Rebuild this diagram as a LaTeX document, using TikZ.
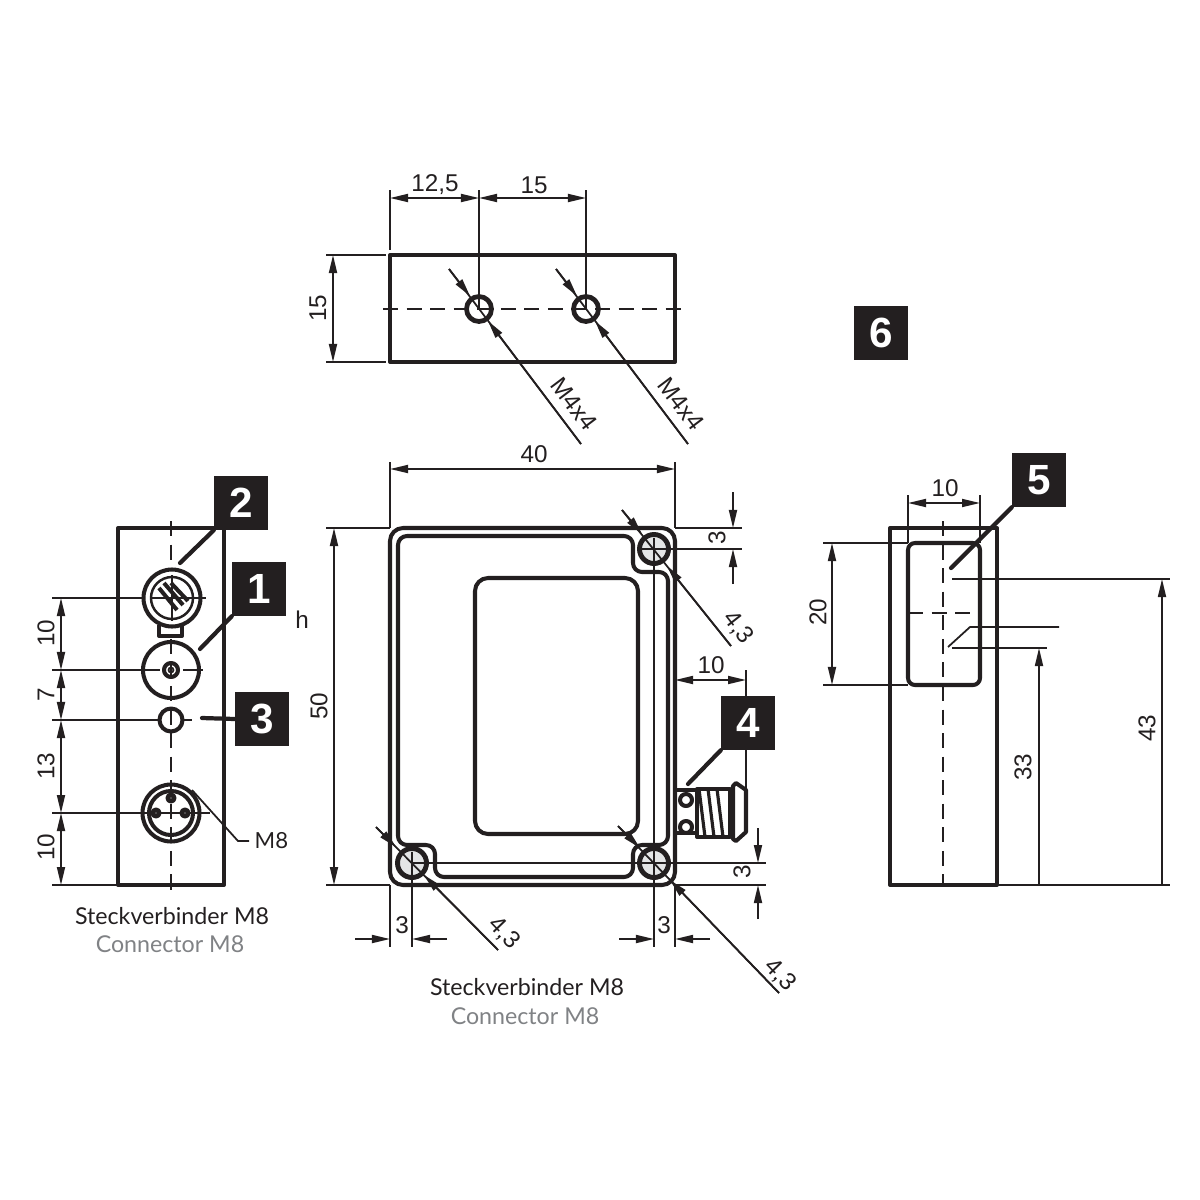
\documentclass[tikz,border=0pt]{standalone}
\usepackage{fontspec}
\setmainfont{Liberation Sans}
\newfontfamily\captionfont{Lato}
\usepackage[svgnames]{xcolor}
\usepackage{tikz}
\usetikzlibrary{arrows.meta}
\definecolor{inkblack}{HTML}{231F20}
\definecolor{holegray}{HTML}{E4E5E6}
\definecolor{captiongray}{HTML}{808285}
\tikzset{
    >={Triangle[length=1.8mm, width=0.8mm]},
    bodyline/.style={line width=1.15pt, color=inkblack, line join=round},
    dimline/.style={line width=0.5pt, color=inkblack},
    centerline/.style={line width=0.5pt, color=inkblack, dash pattern=on 4.3pt off 2.4pt},
    leader/.style={line width=1.2pt, color=inkblack, line cap=round},
    badge/.style={fill=inkblack, text=white, minimum size=0.53cm, inner sep=0pt, font=\fontsize{12}{13}\selectfont\bfseries},
    dimlabel/.style={inner sep=0pt, color=inkblack, font=\fontsize{6.9}{8}\selectfont},
    capline/.style={inner sep=0pt, color=inkblack, font=\fontsize{6.6}{8}\selectfont\captionfont},
    capgray/.style={capline, text=captiongray},
}
\begin{document}
\begin{tikzpicture}[x=0.01cm, y=-0.01cm]
    \useasboundingbox (0,0) rectangle (1200,1200);

    % top view
    \draw[bodyline] (390,255) rectangle (675,362);
    \draw[centerline] (383,309) -- (683,309);
    \draw[dimline] (390,190) -- (390,250);
    \draw[dimline] (479,190) -- (479,309);
    \draw[dimline] (586,190) -- (586,309);
    \draw[dimline, <->] (390,198) -- (479,198);
    \draw[dimline, <->] (479,198) -- (586,198);
    \draw[dimline] (326,255) -- (386,255);
    \draw[dimline] (326,362) -- (386,362);
    \draw[dimline, <->] (333,255) -- (333,362);
    \node[dimlabel] at (435,185) {12,5};
    \node[dimlabel] at (534,185) {15};
    \node[dimlabel, rotate=90] at (318,308) {15};
    \foreach \hx in {479,586} {
        \draw[bodyline, line width=1.35pt] (\hx,309) circle (12.5);
        \draw[dimline] (\hx-30,269) -- (\hx+102,444);
        \draw[dimline, ->] (\hx-30,269) -- (\hx-9,296);
        \draw[dimline, ->] (\hx+102,444) -- (\hx+9,321);
        \node[dimlabel, rotate=-53] at (\hx+95,404) {M4x4};
    }

    % front view
    \draw[bodyline, rounded corners=0.13cm] (390,528) rectangle (675,885);
    \draw[bodyline, rounded corners=0.13cm] (475,578) rectangle (638,834);
    \draw[bodyline, rounded corners=0.09cm] (398,640) -- (398,536) -- (633,536) -- (633,572) -- (668,572)
        -- (668,845) -- (633,845) -- (633,877) -- (435,877) -- (435,845) -- (398,845) -- cycle;
    \foreach \hx/\hy in {654/549, 412/863, 654/863} {
        \draw[bodyline, line width=1.4pt, fill=holegray] (\hx,\hy) circle (14.5);
    }
    \draw[dimline] (654,538) -- (654,947);
    \draw[dimline] (640,549) -- (668,549);
    \draw[dimline] (412,863) -- (654,863);
    \draw[dimline] (412,852) -- (412,947);
    \draw[dimline] (390,885) -- (390,947);
    \draw[dimline] (675,885) -- (675,947);
    \draw[dimline] (390,462) -- (390,528);
    \draw[dimline] (675,462) -- (675,528);
    \draw[dimline, <->] (390,469) -- (675,469);
    \draw[dimline] (326,528) -- (390,528);
    \draw[dimline] (326,885) -- (390,885);
    \draw[dimline, <->] (334,528) -- (334,885);
    \draw[dimline] (675,528) -- (742,528);
    \draw[dimline] (654,549) -- (742,549);
    \draw[dimline, ->] (733,492) -- (733,528);
    \draw[dimline, ->] (733,584) -- (733,549);
    \draw[dimline] (654,863) -- (766,863);
    \draw[dimline] (675,885) -- (766,885);
    \draw[dimline, ->] (758,828) -- (758,863);
    \draw[dimline, ->] (758,919) -- (758,885);
    \draw[dimline, ->] (355,939) -- (390,939);
    \draw[dimline, ->] (447,939) -- (412,939);
    \draw[dimline, ->] (619,939) -- (654,939);
    \draw[dimline, ->] (710,939) -- (675,939);
    \draw[dimline, <->] (675,680) -- (746,680);
    \draw[dimline] (746,670) -- (746,790);
    \node[dimlabel] at (534,454) {40};
    \node[dimlabel, rotate=90] at (319,706) {50};
    \node[dimlabel, rotate=90] at (717,538) {3};
    \node[dimlabel, rotate=90] at (742,872) {3};
    \node[dimlabel] at (402,925) {3};
    \node[dimlabel] at (664,925) {3};
    \node[dimlabel] at (711,665) {10};
    \draw[dimline] (622,510) -- (731,646);
    \draw[dimline, ->] (622,510) -- (642,534);
    \draw[dimline, ->] (731,646) -- (667,566);
    \node[dimlabel, rotate=-52] at (738,628) {4,3};
    \draw[dimline] (376,827) -- (498,950);
    \draw[dimline, ->] (376,827) -- (396,847);
    \draw[dimline, ->] (498,950) -- (424,875);
    \node[dimlabel, rotate=-46] at (504,933) {4,3};
    \draw[dimline] (618,826) -- (779,993);
    \draw[dimline, ->] (618,826) -- (640,848);
    \draw[dimline, ->] (779,993) -- (670,880);
    \node[dimlabel, rotate=-46] at (780,975) {4,3};

    % cable connector
    \draw[bodyline] (675,790) -- (697,790);
    \draw[bodyline] (675,833) -- (697,833);
    \draw[bodyline] (686,800) circle (6);
    \draw[bodyline] (686,827) circle (6);
    \draw[bodyline] (697,789) -- (730,789) -- (730,837) -- (697,837) -- cycle;
    \foreach \tx in {699,708,717} {
        \draw[bodyline, line width=0.9pt] (\tx,789) -- (\tx+6,837);
    }
    \draw[bodyline] (733,786) -- (736,783) -- (746,790) -- (746,832) -- (736,841) -- (733,839) -- cycle;

    % left view
    \draw[bodyline] (118,528) rectangle (224,885);
    \draw[centerline] (171,521) -- (171,892);
    \foreach \ly in {598,670,720,813,885} {
        \draw[dimline] (52,\ly) -- (118,\ly);
    }
    \draw[dimline, <->] (61,598) -- (61,670);
    \draw[dimline, <->] (61,670) -- (61,720);
    \draw[dimline, <->] (61,720) -- (61,813);
    \draw[dimline, <->] (61,813) -- (61,885);
    \node[dimlabel, rotate=90] at (46,633) {10};
    \node[dimlabel, rotate=90] at (46,695) {7};
    \node[dimlabel, rotate=90] at (46,766) {13};
    \node[dimlabel, rotate=90] at (46,847) {10};
    \draw[dimline] (118,598) -- (206,598);
    \draw[dimline] (118,670) -- (160,670);
    \draw[dimline] (183,670) -- (203,670);
    \draw[dimline] (118,720) -- (160,720);
    \draw[dimline] (182,720) -- (192,720);
    \draw[dimline] (118,813) -- (210,813);

    \draw[bodyline, fill=white] (159,625) -- (159,636) -- (182,636) -- (182,625);
    \draw[bodyline, fill=white] (172,598) circle (28.5);
    \draw[dimline, line width=0.7pt] (172,598) circle (21);
    \draw[dimline] (172,575) -- (172,621);
    \draw[dimline] (150,598) -- (206,598);
    \draw[bodyline] (159,588) -- (177,610);
    \draw[bodyline] (164,583) -- (183,605);
    \draw[bodyline] (171,583) -- (188,601);
    \draw[bodyline] (171,670) circle (28);
    \draw[bodyline] (171,670) circle (7);
    \draw[dimline] (171,670) circle (2.5);
    \draw[bodyline] (171,720) circle (11.5);
    \draw[bodyline] (171,813) circle (28.5);
    \draw[bodyline] (171,813) circle (22);
    \foreach \px/\py in {171/798, 156/813, 185/813} {
        \draw[bodyline, fill=inkblack!80] (\px,\py) circle (3.5);
    }
    \node[capline, anchor=west, font=\fontsize{6.3}{8}\selectfont\captionfont] (mlabel) at (254,841) {M8};
    \coordinate (mtip) at (192,790);
    \draw[dimline] (mlabel.west) ++(-5,0) -- (238,841) -- (mtip);
    \node[dimlabel] (hlabel) at (302,620) {h};
    \node[capline] (capa) at (172,916) {Steckverbinder M8};
    \node[capgray] (capb) at (170,944) {Connector M8};
    \node[capline] (capc) at (527,987) {Steckverbinder M8};
    \node[capgray] (capd) at (525,1016) {Connector M8};

    % side view
    \draw[bodyline] (890,528) rectangle (997,885);
    \draw[bodyline, rounded corners=0.07cm] (908,543) rectangle (980,685);
    \draw[centerline] (943,521) -- (943,885);
    \draw[centerline] (908,613) -- (980,613);
    \draw[dimline] (908,495) -- (908,543);
    \draw[dimline] (980,495) -- (980,543);
    \draw[dimline, <->] (908,503) -- (980,503);
    \draw[dimline] (823,543) -- (908,543);
    \draw[dimline] (823,685) -- (908,685);
    \draw[dimline, <->] (832,543) -- (832,685);
    \draw[dimline] (952,579) -- (1170,579);
    \draw[dimline] (952,648) -- (1047,648);
    \draw[dimline] (948,647) -- (970,627) -- (1059,627);
    \draw[dimline] (997,885) -- (1170,885);
    \draw[dimline, ->] (1162,885) -- (1162,579);
    \draw[dimline, ->] (1039,885) -- (1039,648);
    \node[dimlabel] at (945,488) {10};
    \node[dimlabel, rotate=90] at (818,612) {20};
    \node[dimlabel, rotate=90] at (1023,767) {33};
    \node[dimlabel, rotate=90] at (1147,728) {43};

    % numbered badges
    \node[badge] (badgeone) at (259,589) {1};
    \node[badge] (badgetwo) at (241,503) {2};
    \node[badge] (badgethree) at (262,719) {3};
    \node[badge] (badgefour) at (748,723) {4};
    \node[badge] (badgefive) at (1039,480) {5};
    \node[badge] (badgesix) at (881,333) {6};
    \coordinate (tipone) at (200,649);
    \coordinate (tiptwo) at (180,563);
    \coordinate (tipthree) at (202,718);
    \coordinate (tipfour) at (688,784);
    \coordinate (tipfive) at (951,568);
    \draw[leader] (badgeone.south west) -- (tipone);
    \draw[leader] (badgetwo.south west) -- (tiptwo);
    \draw[leader] (badgethree.west) -- (tipthree);
    \draw[leader] (badgefour.south west) -- (tipfour);
    \draw[leader] (badgefive.south west) -- (tipfive);
\end{tikzpicture}
\end{document}
